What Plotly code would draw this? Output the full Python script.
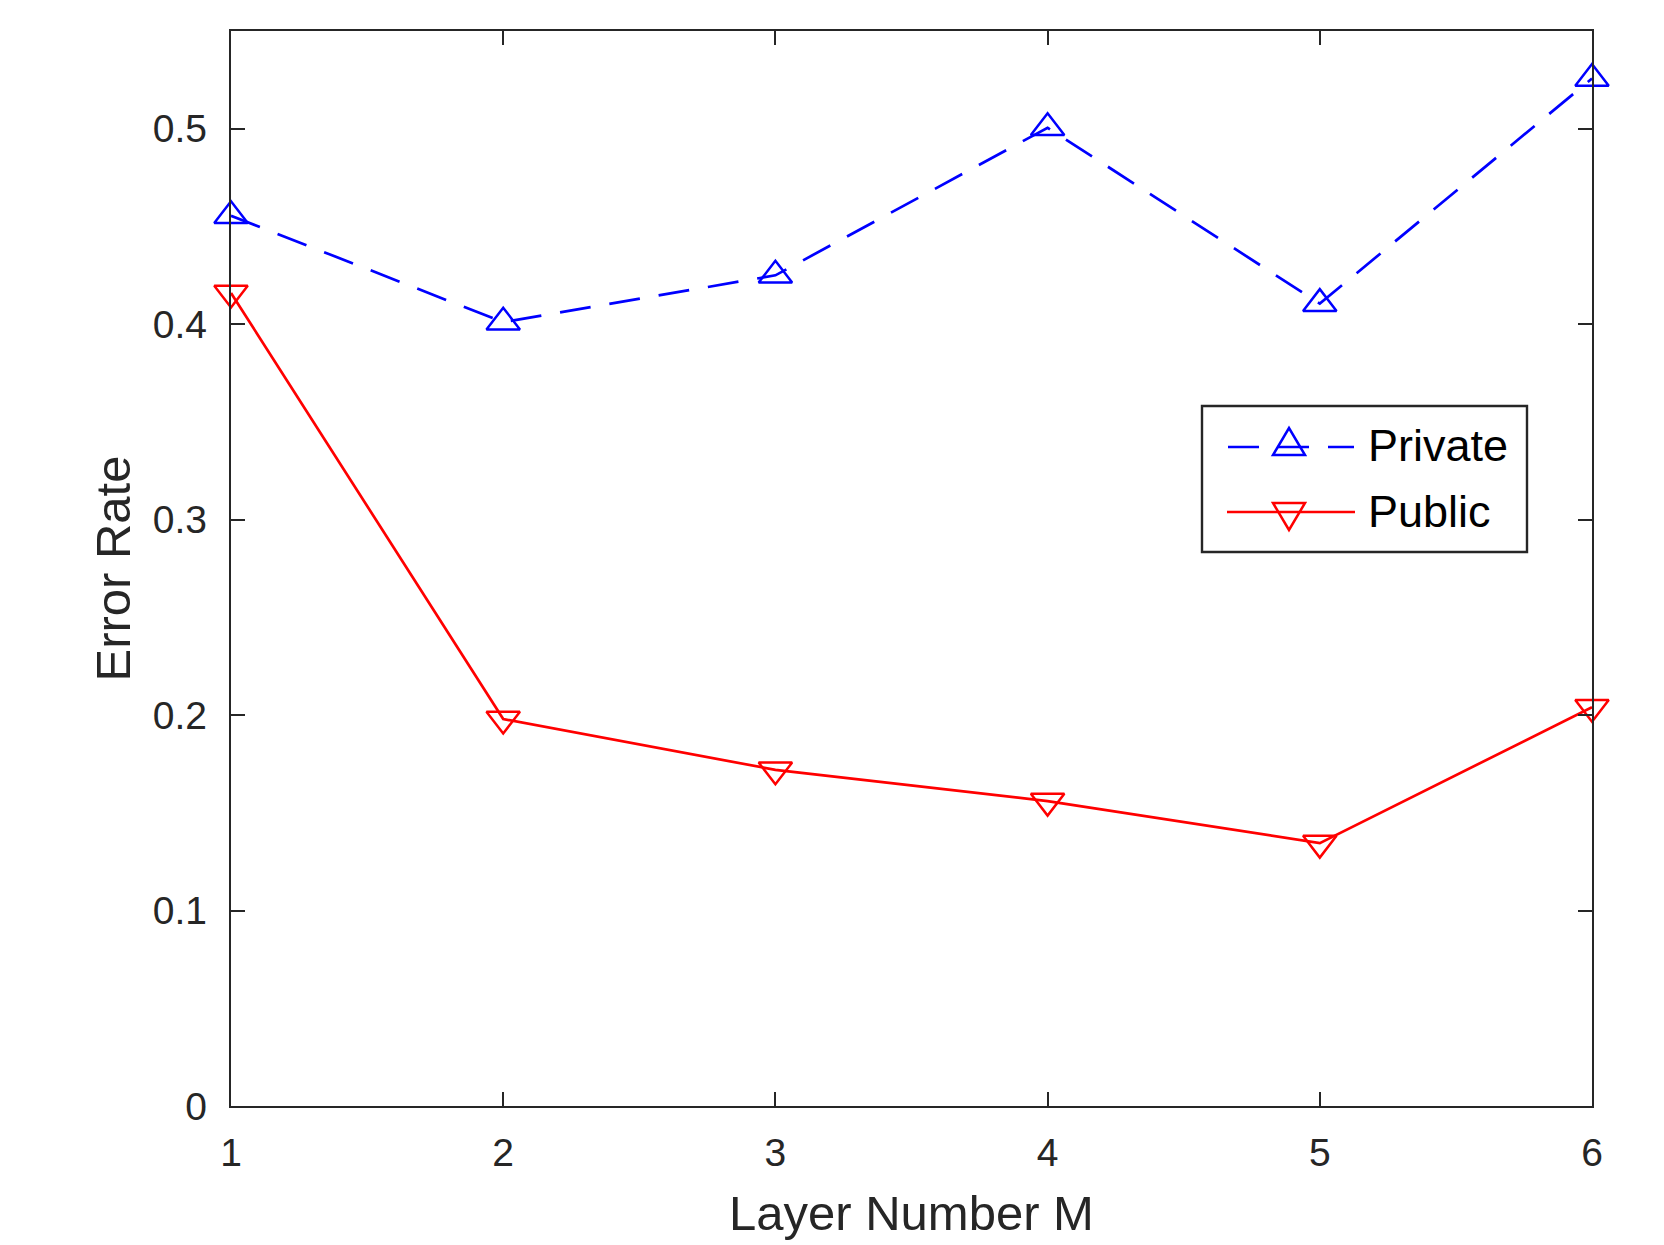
import plotly.graph_objects as go

layers = [1, 2, 3, 4, 5, 6]
private_err = [0.4555, 0.401, 0.425, 0.5005, 0.4105, 0.5257]
public_err = [0.416, 0.198, 0.172, 0.156, 0.1345, 0.204]
x_ticks = [1, 2, 3, 4, 5, 6]
y_ticks = [0, 0.1, 0.2, 0.3, 0.4, 0.5]
y_tick_labels = ["0", "0.1", "0.2", "0.3", "0.4", "0.5"]
series_names = ["Private", "Public"]

FONT = "Liberation Sans, Arial, Helvetica, sans-serif"
AX = "#262626"
BLUE = "#0000ff"
RED = "#ff0000"

# Plot area in screen pixels (used only to place the hand-built legend box)
PX_L, PX_R, PX_T, PX_B = 231, 1592, 31, 1106


def px(x):
    return (x - PX_L) / (PX_R - PX_L)


def py(y):
    return (PX_B - y) / (PX_B - PX_T)


fig = go.Figure()
fig.add_trace(go.Scatter(
    x=layers, y=private_err, name=series_names[0], mode="lines+markers",
    line=dict(color=BLUE, width=2.7, dash="31px,19px"),
    marker=dict(symbol="triangle-up-open", size=29, color=BLUE,
                line=dict(color=BLUE, width=2.5)),
    cliponaxis=False, showlegend=False,
))
fig.add_trace(go.Scatter(
    x=layers, y=public_err, name=series_names[1], mode="lines+markers",
    line=dict(color=RED, width=2.7),
    marker=dict(symbol="triangle-down-open", size=29, color=RED,
                line=dict(color=RED, width=2.5)),
    cliponaxis=False, showlegend=False,
))

# Legend drawn as a MATLAB-style box
shapes = [
    dict(type="rect", xref="paper", yref="paper",
         x0=px(1202), x1=px(1527), y0=py(552), y1=py(406),
         line=dict(color=AX, width=2.4), fillcolor="white", layer="above"),
    dict(type="line", xref="paper", yref="paper",
         x0=px(1228), x1=px(1354), y0=py(447), y1=py(447),
         line=dict(color=BLUE, width=2.7, dash="31px,19px"), layer="above"),
    dict(type="path", xref="paper", yref="paper",
         path=f"M {px(1273)},{py(455)} L {px(1305)},{py(455)} L {px(1289)},{py(428)} Z",
         line=dict(color=BLUE, width=2.5), layer="above"),
    dict(type="line", xref="paper", yref="paper",
         x0=px(1227), x1=px(1355), y0=py(512), y1=py(512),
         line=dict(color=RED, width=2.7), layer="above"),
    dict(type="path", xref="paper", yref="paper",
         path=f"M {px(1273)},{py(503)} L {px(1305)},{py(503)} L {px(1289)},{py(530)} Z",
         line=dict(color=RED, width=2.5), layer="above"),
]
annotations = [
    dict(text=series_names[0], xref="paper", yref="paper", x=px(1366), y=py(446),
         xanchor="left", yanchor="middle", showarrow=False,
         font=dict(family=FONT, size=45, color="black")),
    dict(text=series_names[1], xref="paper", yref="paper", x=px(1366), y=py(511),
         xanchor="left", yanchor="middle", showarrow=False,
         font=dict(family=FONT, size=45, color="black")),
]

axis_common = dict(
    showline=True, linecolor=AX, linewidth=2.4, mirror="allticks",
    ticks="inside", ticklen=14, tickwidth=2.4, tickcolor=AX,
    showgrid=False, zeroline=False,
    tickfont=dict(family=FONT, size=39, color=AX),
)

fig.update_layout(
    width=1664, height=1245,
    margin=dict(l=223, r=80, t=23, b=147),
    paper_bgcolor="white", plot_bgcolor="white",
    font=dict(family=FONT, color=AX),
    showlegend=False,
    shapes=shapes, annotations=annotations,
    xaxis=dict(
        range=[1, 6], tickvals=x_ticks, ticktext=[str(v) for v in x_ticks],
        title=dict(text="Layer Number M", font=dict(family=FONT, size=49, color=AX), standoff=23),
        ticklabelstandoff=11,
        **axis_common,
    ),
    yaxis=dict(
        range=[0, 0.55], tickvals=y_ticks, ticktext=y_tick_labels,
        title=dict(text="Error Rate", font=dict(family=FONT, size=49, color=AX), standoff=7),
        ticklabelstandoff=14,
        **axis_common,
    ),
)

fig.write_html("out.html")
